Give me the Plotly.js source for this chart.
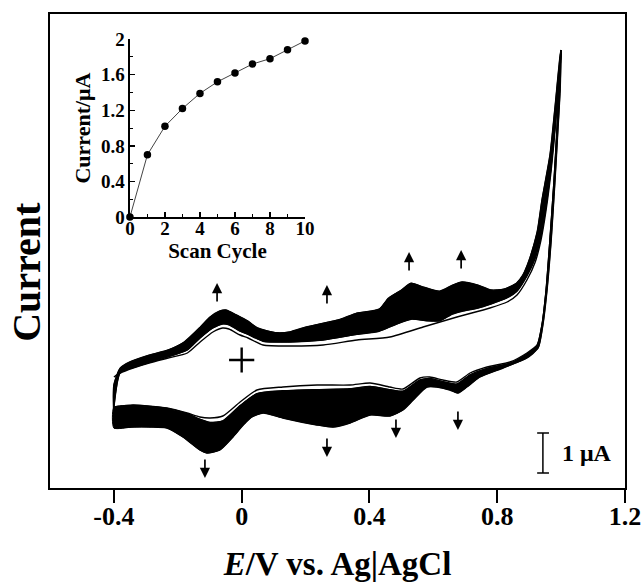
<!DOCTYPE html>
<html>
<head>
<meta charset="utf-8">
<script src="https://cdn.plot.ly/plotly-3.0.1.min.js"></script>
<style>html,body{margin:0;padding:0;background:#fff;}#chart{width:644px;height:582px;}</style>
</head>
<body>
<div id="chart"></div>
<script>
// ---- Cyclic voltammogram data (E in V vs Ag|AgCl, current in microampere) ----
// First cycle, anodic (forward) sweep
const E_fwd_first = [-0.40,-0.38,-0.34,-0.29,-0.23,-0.17,-0.13,-0.09,-0.06,-0.04,-0.005,0.02,0.067,0.151,0.255,0.361,0.464,0.568,0.674,0.777,0.831,0.862,0.893,0.919,0.937,0.953,0.969,0.981,0.99,1.00];
const I_fwd_first = [-0.425,-0.325,-0.20,-0.075,0.05,0.175,0.45,0.70,0.80,0.775,0.625,0.55,0.375,0.35,0.375,0.50,0.575,0.825,1.075,1.30,1.45,1.625,2.0,2.45,3.0,3.75,4.75,5.75,6.625,7.75];
// First cycle, cathodic (reverse) sweep
const E_rev_first = [1.00,0.993,0.987,0.978,0.965,0.953,0.94,0.925,0.893,0.84,0.768,0.715,0.674,0.63,0.589,0.558,0.505,0.464,0.402,0.339,0.236,0.129,0.048,-0.005,-0.059,-0.099,-0.131,-0.171,-0.234,-0.34,-0.40];
const I_rev_first = [7.75,6.75,5.75,4.5,3.0,1.75,0.875,0.375,0.175,-0.05,-0.175,-0.325,-0.55,-0.50,-0.425,-0.45,-0.725,-0.675,-0.575,-0.625,-0.625,-0.675,-0.75,-1.05,-1.40,-1.45,-1.425,-1.325,-1.20,-1.125,-1.175];
// Second cycle, anodic (forward) sweep
const E_fwd_second = [-0.40,-0.38,-0.34,-0.29,-0.23,-0.17,-0.13,-0.09,-0.06,-0.04,-0.005,0.02,0.067,0.151,0.255,0.361,0.43,0.48,0.53,0.58,0.62,0.66,0.69,0.74,0.78,0.83,0.862,0.893,0.919,0.937,0.953,0.969,0.981,0.99,1.00];
const I_fwd_second = [-1.19,-0.315,-0.19,-0.065,0.08,0.25,0.55,0.80,0.90,0.88,0.72,0.64,0.47,0.45,0.50,0.64,0.72,0.88,1.02,0.98,0.98,1.15,1.22,1.30,1.40,1.55,1.72,2.1,2.55,3.1,3.85,4.85,5.85,6.7,7.75];
// Second cycle, cathodic (reverse) sweep
const E_rev_second = [1.00,0.993,0.987,0.978,0.965,0.953,0.94,0.925,0.893,0.84,0.768,0.715,0.674,0.63,0.589,0.558,0.505,0.464,0.402,0.339,0.236,0.129,0.048,-0.005,-0.059,-0.099,-0.131,-0.171,-0.234,-0.34,-0.40];
const I_rev_second = [7.75,6.75,5.75,4.5,3.0,1.75,0.87,0.36,0.15,-0.08,-0.21,-0.37,-0.60,-0.54,-0.46,-0.50,-0.78,-0.74,-0.66,-0.72,-0.74,-0.77,-0.84,-1.14,-1.52,-1.56,-1.48,-1.34,-1.21,-1.135,-1.185];
// Last cycle, anodic (forward) sweep
const E_fwd_last = [-0.40,-0.40,-0.38,-0.35,-0.29,-0.23,-0.18,-0.13,-0.10,-0.07,-0.05,-0.015,0.02,0.05,0.11,0.15,0.20,0.31,0.36,0.43,0.46,0.50,0.53,0.57,0.62,0.66,0.69,0.74,0.78,0.82,0.86,0.88,0.90,0.925,0.94,0.965,0.98,0.997,1.00];
const I_fwd_last = [-1.5,-0.62,-0.20,-0.05,0.12,0.25,0.45,0.82,1.07,1.22,1.25,1.12,0.97,0.80,0.68,0.70,0.82,1.02,1.17,1.27,1.55,1.75,1.92,1.82,1.72,1.87,1.95,1.87,1.75,1.77,1.92,2.12,2.50,3.20,4.00,5.12,6.25,7.62,7.75];
// Last cycle, cathodic (reverse) sweep
const E_rev_last = [1.00,0.997,0.99,0.981,0.969,0.956,0.943,0.928,0.893,0.818,0.746,0.705,0.677,0.652,0.611,0.580,0.537,0.505,0.464,0.402,0.339,0.286,0.236,0.129,0.067,0.032,0.005,-0.027,-0.068,-0.109,-0.131,-0.184,-0.234,-0.287,-0.34,-0.40];
const I_rev_last = [7.75,6.75,5.75,4.5,3.0,1.75,0.875,0.30,0.05,-0.20,-0.425,-0.675,-0.825,-0.75,-0.675,-0.675,-1.0,-1.25,-1.40,-1.375,-1.575,-1.675,-1.625,-1.45,-1.325,-1.425,-1.625,-1.925,-2.25,-2.325,-2.25,-1.925,-1.70,-1.675,-1.675,-1.70];

// ---- Inset: current increase vs scan cycle ----
const scanCycle = [0,1,2,3,4,5,6,7,8,9,10];
const currentIncrease = [0,0.70,1.02,1.22,1.39,1.52,1.62,1.72,1.78,1.88,1.98];

const xTickVals = [-0.4,0,0.4,0.8,1.2];
const xTickText = ['-0.4','0','0.4','0.8','1.2'];
const insetXTicks = [0,2,4,6,8,10];
const insetYTicks = [0,0.4,0.8,1.2,1.6,2];
const insetYText = ['0','0.4','0.8','1.2','1.6','2'];

const FONT = 'Liberation Serif, Times New Roman, serif';
const BLACK = '#000';

function band(xOuter, yOuter, xInner, yInner){
  return {
    x: xOuter.concat(xInner.slice().reverse()),
    y: yOuter.concat(yInner.slice().reverse())
  };
}
const upperBand = band(E_fwd_last, I_fwd_last, E_fwd_second, I_fwd_second);
const lowerBand = band(E_rev_last, I_rev_last, E_rev_second, I_rev_second);

const lineStyle = {color: BLACK, width: 1.4, shape: 'spline', smoothing: 0.6};

const traces = [
  {x: upperBand.x, y: upperBand.y, type: 'scatter', mode: 'lines', fill: 'toself', fillcolor: BLACK,
   line: {color: BLACK, width: 1, shape: 'spline', smoothing: 0.6}, hoverinfo: 'skip', showlegend: false},
  {x: lowerBand.x, y: lowerBand.y, type: 'scatter', mode: 'lines', fill: 'toself', fillcolor: BLACK,
   line: {color: BLACK, width: 1, shape: 'spline', smoothing: 0.6}, hoverinfo: 'skip', showlegend: false},
  {x: E_fwd_first, y: I_fwd_first, type: 'scatter', mode: 'lines', line: lineStyle, showlegend: false},
  {x: E_rev_first, y: I_rev_first, type: 'scatter', mode: 'lines', line: lineStyle, showlegend: false},
  {x: E_fwd_second, y: I_fwd_second, type: 'scatter', mode: 'lines', line: lineStyle, showlegend: false},
  {x: E_rev_second, y: I_rev_second, type: 'scatter', mode: 'lines', line: lineStyle, showlegend: false},
  {x: E_fwd_last, y: I_fwd_last, type: 'scatter', mode: 'lines', line: lineStyle, showlegend: false},
  {x: E_rev_last, y: I_rev_last, type: 'scatter', mode: 'lines', line: lineStyle, showlegend: false},
  // origin cross
  {x: [0], y: [0], type: 'scatter', mode: 'markers',
   marker: {symbol: 'cross-thin', size: 18, line: {color: BLACK, width: 2.4}}, showlegend: false, hoverinfo: 'skip'},
  // inset
  {x: scanCycle, y: currentIncrease, xaxis: 'x2', yaxis: 'y2', type: 'scatter', mode: 'lines+markers',
   line: {color: '#444', width: 1}, marker: {color: BLACK, size: 7.5}, cliponaxis: false, showlegend: false}
];

function arrow(x, y, ay){
  return {x: x, y: y, xref: 'x', yref: 'y', text: '', showarrow: true, arrowhead: 2, arrowsize: 1.2,
          arrowwidth: 1.7, arrowcolor: BLACK, ax: 0, ay: ay};
}

const layout = {
  width: 644, height: 582,
  margin: {l: 50, r: 19, t: 14, b: 94},
  paper_bgcolor: '#fff', plot_bgcolor: '#fff',
  showlegend: false,
  font: {family: FONT, color: BLACK},
  xaxis: {
    range: [-0.6, 1.2], tickvals: xTickVals, ticktext: xTickText,
    ticks: 'outside', ticklen: 13, tickwidth: 2, tickcolor: BLACK,
    showline: true, linewidth: 2, linecolor: BLACK, mirror: true,
    showgrid: false, zeroline: false, ticklabelstandoff: -9,
    tickfont: {family: FONT, size: 26, weight: 'bold', color: BLACK},
    title: {text: '<i>E</i>/V vs. Ag|AgCl', font: {family: FONT, size: 33, weight: 'bold', color: BLACK}, standoff: 22},
    automargin: false
  },
  yaxis: {
    range: [-3.2, 8.65], showticklabels: false, ticks: '',
    showline: true, linewidth: 2, linecolor: BLACK, mirror: true,
    showgrid: false, zeroline: false, automargin: false
  },
  xaxis2: {
    domain: [0.139, 0.4435], anchor: 'y2', range: [0, 10],
    tickvals: insetXTicks, ticks: 'inside', ticklen: 5, tickwidth: 1.3, tickcolor: BLACK,
    minor: {ticks: 'inside', dtick: 1, ticklen: 3, tickwidth: 1, tickcolor: BLACK},
    showline: true, linewidth: 1.5, linecolor: BLACK, showgrid: false, zeroline: false,
    ticklabelstandoff: -6,
    tickfont: {family: FONT, size: 19, weight: 'bold', color: BLACK},
    title: {text: 'Scan Cycle', font: {family: FONT, size: 21, weight: 'bold', color: BLACK}, standoff: 2},
    automargin: false
  },
  yaxis2: {
    domain: [0.5717, 0.947], anchor: 'x2', range: [0, 2],
    tickvals: insetYTicks, ticktext: insetYText,
    ticks: 'inside', ticklen: 5, tickwidth: 1.3, tickcolor: BLACK,
    minor: {ticks: 'inside', dtick: 0.2, ticklen: 3, tickwidth: 1, tickcolor: BLACK},
    showline: true, linewidth: 1.5, linecolor: BLACK, showgrid: false, zeroline: false,
    tickfont: {family: FONT, size: 19, weight: 'bold', color: BLACK},
    title: {text: 'Current/μA', font: {family: FONT, size: 22, weight: 'bold', color: BLACK}, standoff: 4},
    automargin: false
  },
  shapes: [
    {type: 'line', xref: 'x', yref: 'y', x0: 0.943, x1: 0.943, y0: -1.825, y1: -2.825, line: {color: BLACK, width: 1.5}},
    {type: 'line', xref: 'x', yref: 'y', x0: 0.925, x1: 0.962, y0: -1.825, y1: -1.825, line: {color: BLACK, width: 1.5}},
    {type: 'line', xref: 'x', yref: 'y', x0: 0.925, x1: 0.962, y0: -2.825, y1: -2.825, line: {color: BLACK, width: 1.5}}
  ],
  annotations: [
    {x: 0.997, y: -2.325, xref: 'x', yref: 'y', xanchor: 'left', yanchor: 'middle', showarrow: false,
     text: '1 μA', font: {family: FONT, size: 24, weight: 'bold', color: BLACK}},
    {x: -0.04, y: 0.456, xref: 'paper', yref: 'paper', xanchor: 'center', yanchor: 'middle', showarrow: false,
     textangle: -90, text: 'Current', font: {family: FONT, size: 40, weight: 'bold', color: BLACK}},
    arrow(-0.077, 1.925, 20), arrow(0.267, 1.875, 20), arrow(0.524, 2.7, 20), arrow(0.687, 2.75, 20),
    arrow(-0.115, -2.95, -20), arrow(0.267, -2.425, -20), arrow(0.483, -1.95, -20), arrow(0.677, -1.75, -20)
  ]
};

Plotly.newPlot('chart', traces, layout, {displayModeBar: false, staticPlot: true});
</script>
</body>
</html>
